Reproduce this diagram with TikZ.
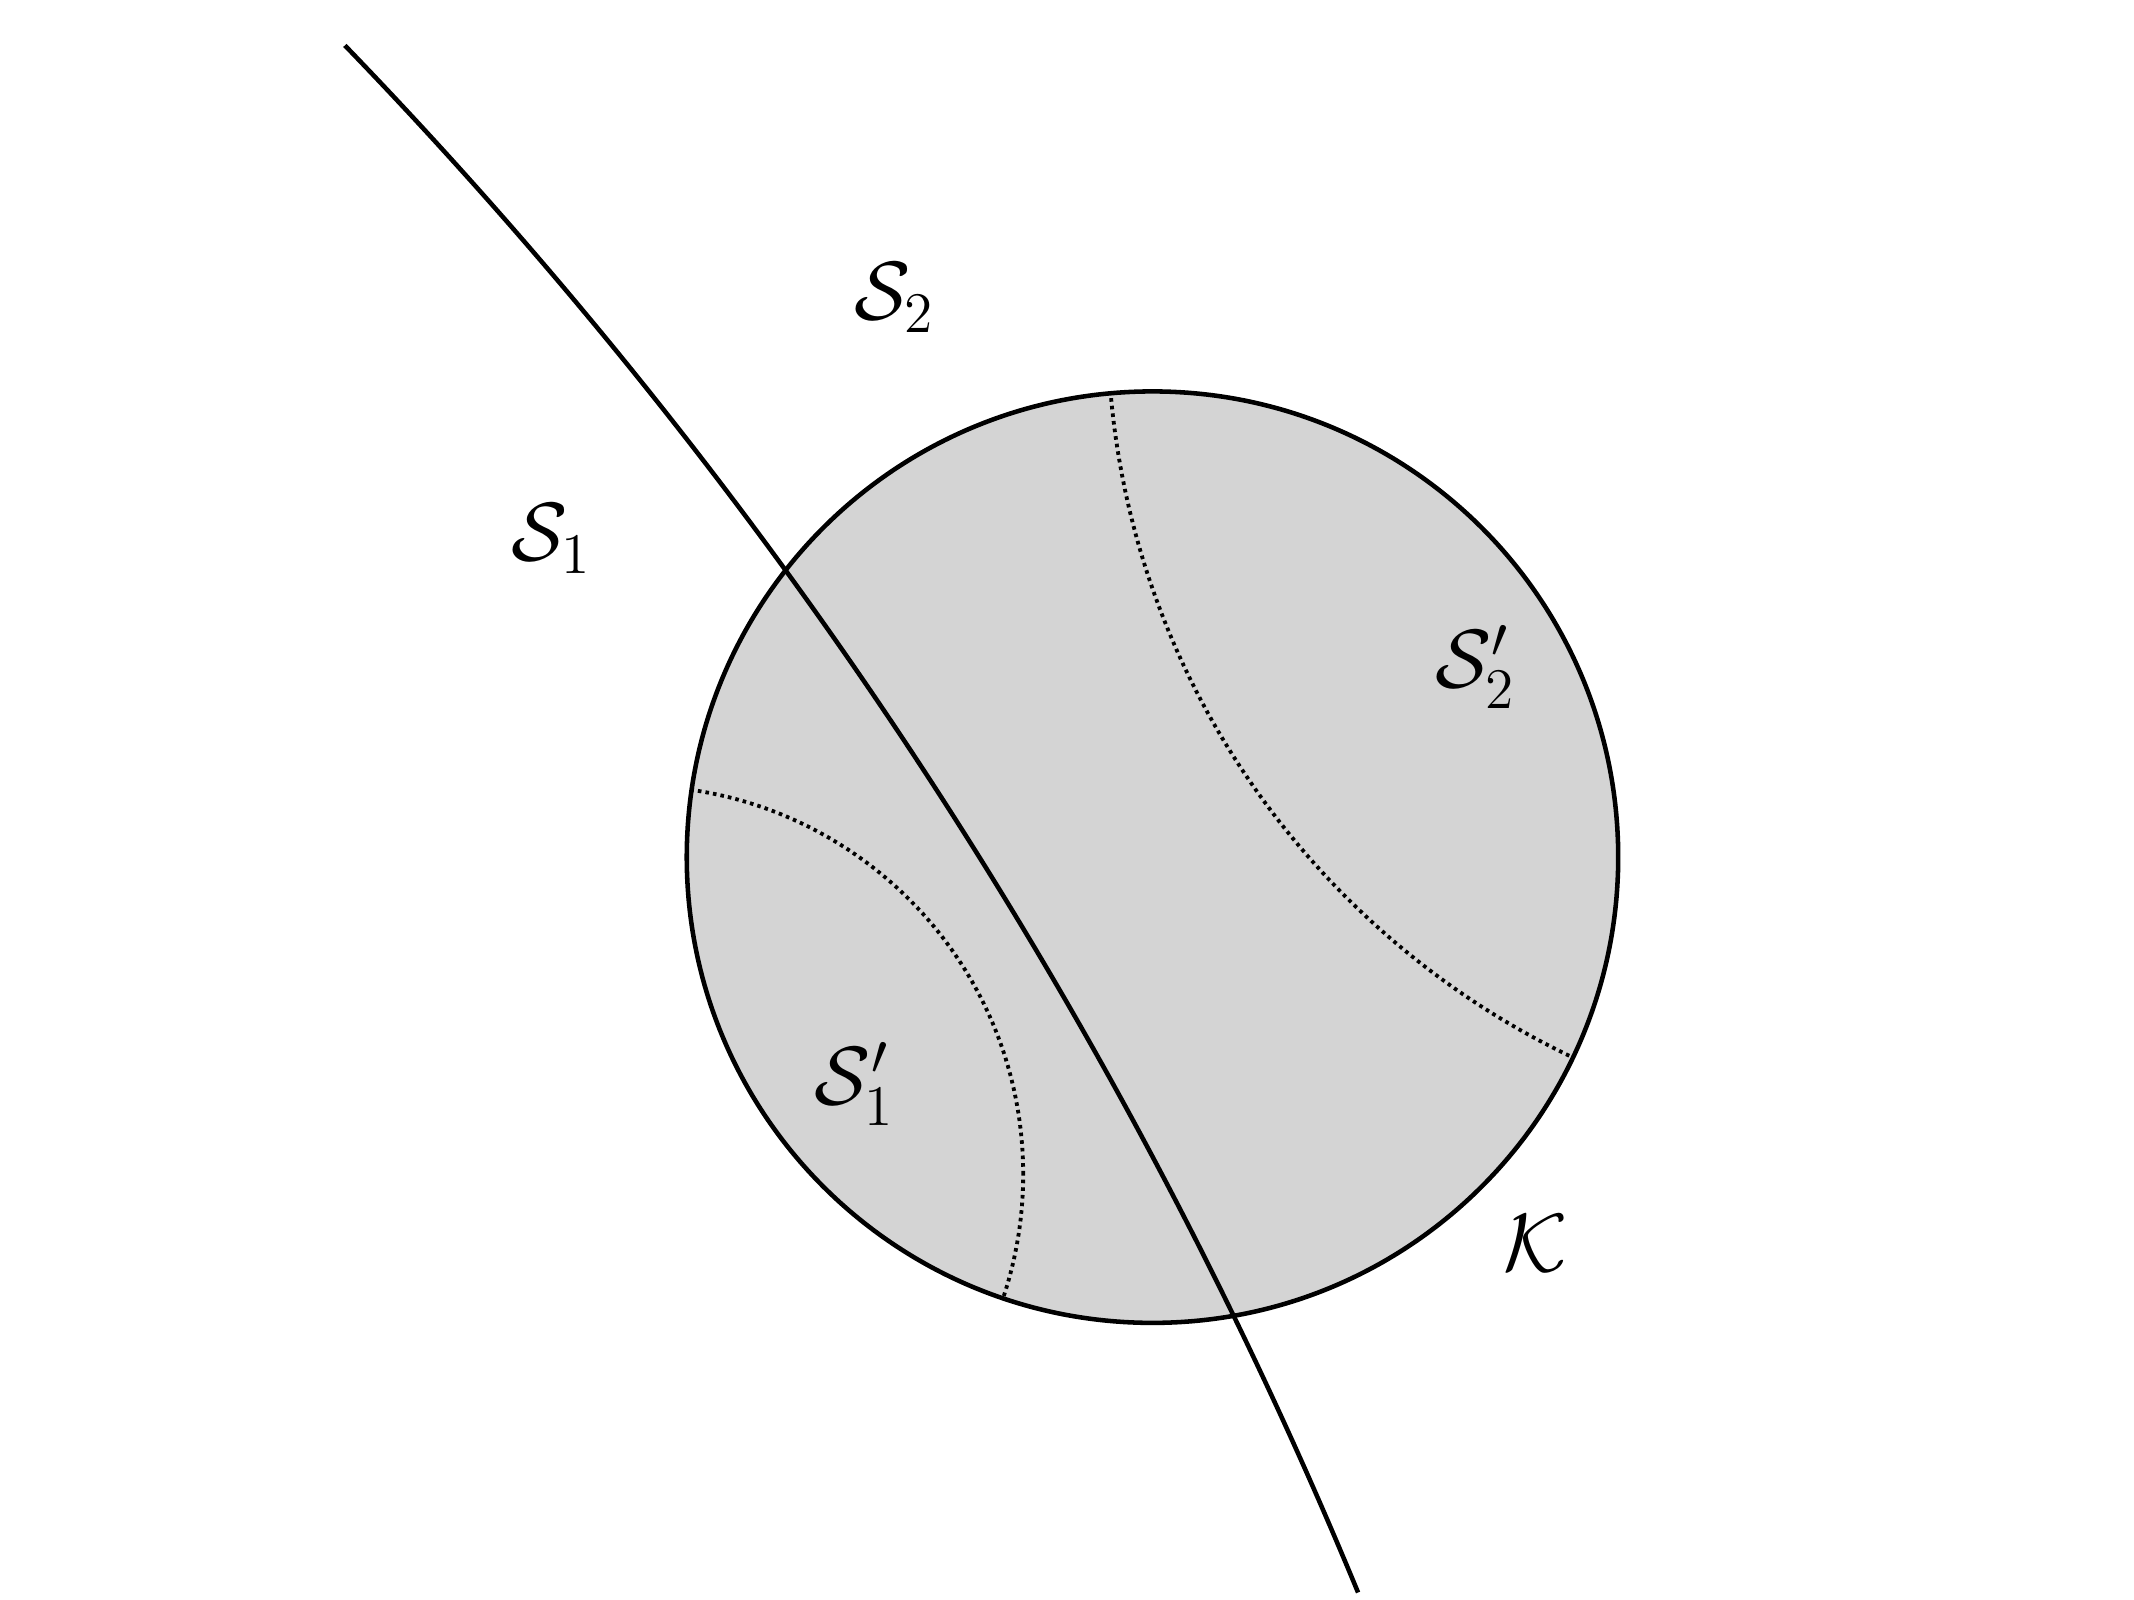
\documentclass[tikz,border=0pt]{standalone}
\begin{document}
\begin{tikzpicture}[x=1cm,y=1cm,
  solidline/.style={line width=0.95pt},
  dotline/.style={line width=0.8pt, dash pattern=on 0.75pt off 0.85pt},
  lab/.style={font=\fontsize{16.5pt}{20pt}\selectfont, inner sep=0pt, anchor=base west}]
\useasboundingbox (0,0) rectangle (15.68,-11.756);
\coordinate (O) at (8.468,-6.298);
\coordinate (Q1) at (4.662,-8.629);
\coordinate (Q2) at (14.13,-2.356);
\coordinate (C) at (-23.62,-25.59);
% disk
\fill[black!17] (O) circle (3.422);
% dotted geodesics
\begin{scope}
  \clip (O) circle (3.422);
  \draw[dotline] (Q1) circle (2.856);
  \draw[dotline] (Q2) circle (5.993);
\end{scope}
\draw[solidline] (O) circle (3.422);
% long curve
\draw[solidline] (C) ++(44:36.358) arc[start angle=44, end angle=22.46, radius=36.358];
% labels
\node[lab] (s2) at (6.27,-2.351) {$\mathcal{S}_2$};
\node[lab] (s1) at (3.75,-4.122) {$\mathcal{S}_1$};
\node[lab] (s2p) at (10.54,-5.055) {$\mathcal{S}_2'$};
\node[lab] (s1p) at (5.98,-8.119) {$\mathcal{S}_1'$};
\node[lab] (k) at (11.04,-9.339) {$\mathcal{K}$};
\end{tikzpicture}
\end{document}
